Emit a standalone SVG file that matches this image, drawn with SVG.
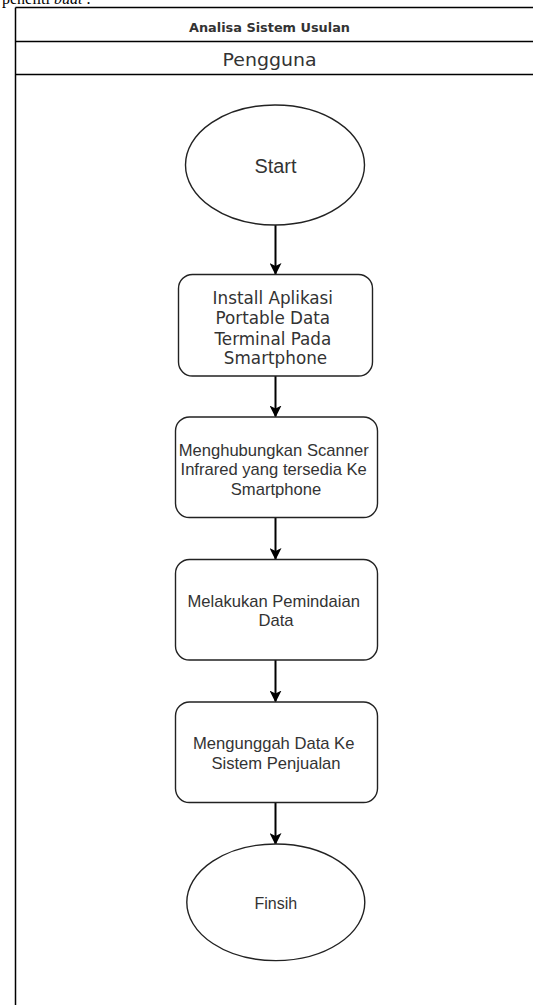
<svg xmlns="http://www.w3.org/2000/svg" width="533" height="1005" viewBox="0 0 533 1005">
<style>
.frame{fill:none;stroke:#000;stroke-width:1.5}
.node{fill:#fff;stroke:#222;stroke-width:1.4}
.conn{fill:none;stroke:#000;stroke-width:2}
.lbl{font-family:"Liberation Sans",Arial,sans-serif;fill:#333;text-anchor:middle;dominant-baseline:central}
.dv{font-family:"DejaVu Sans",Verdana,sans-serif;fill:#333;text-anchor:middle;dominant-baseline:central}
</style>
<defs>
<marker id="arr" markerWidth="12" markerHeight="12" viewBox="0 0 12 12" refX="11" refY="6" orient="auto" markerUnits="userSpaceOnUse">
<path d="M0,0 L12,6 L0,12 L3,6 Z" fill="#000"/>
</marker>
</defs>
<rect width="533" height="1005" fill="#fff"/>
<text x="2" y="4" font-family="Liberation Serif,'Times New Roman',serif" font-size="16" fill="#000">peneliti <tspan font-style="italic">buat :</tspan></text>
<g id="pool">
<line class="frame" x1="15.5" y1="7.5" x2="533" y2="7.5"/>
<line class="frame" x1="15.5" y1="7.5" x2="15.5" y2="1005"/>
<line class="frame" x1="15.5" y1="41.5" x2="533" y2="41.5"/>
<line class="frame" x1="15.5" y1="74.5" x2="533" y2="74.5"/>
<text class="dv" x="269.5" y="28" font-size="11.5" font-weight="bold" textLength="161" lengthAdjust="spacingAndGlyphs">Analisa Sistem Usulan</text>
<text class="dv" x="269.5" y="60" font-size="17" textLength="94" lengthAdjust="spacingAndGlyphs">Pengguna</text>
</g>
<g id="connectors">
<line class="conn" x1="275.5" y1="225" x2="275.5" y2="274" marker-end="url(#arr)"/>
<line class="conn" x1="275.5" y1="376" x2="275.5" y2="416.5" marker-end="url(#arr)"/>
<line class="conn" x1="275.5" y1="517.5" x2="275.5" y2="559" marker-end="url(#arr)"/>
<line class="conn" x1="275.5" y1="660" x2="275.5" y2="701.5" marker-end="url(#arr)"/>
<line class="conn" x1="275.5" y1="802.5" x2="275.5" y2="844" marker-end="url(#arr)"/>
</g>
<g id="start">
<ellipse class="node" cx="275" cy="165" rx="89.5" ry="60"/>
<text class="lbl" x="275.5" y="166" font-size="20" textLength="42" lengthAdjust="spacingAndGlyphs">Start</text>
</g>
<g id="install">
<rect class="node" x="178.5" y="274.5" width="194" height="101.5" rx="14"/>
<text class="dv" font-size="16.8">
<tspan x="275.5" y="297.5">Install Aplikasi</tspan>
<tspan x="275.5" y="318">Portable Data</tspan>
<tspan x="275.5" y="338.5">Terminal Pada</tspan>
<tspan x="275.5" y="358">Smartphone</tspan>
</text>
</g>
<g id="scanner">
<rect class="node" x="175.5" y="417" width="202" height="100.5" rx="14"/>
<text class="lbl" font-size="16.6">
<tspan x="276" y="449.5">Menghubungkan Scanner</tspan>
<tspan x="276" y="469">Infrared yang tersedia Ke</tspan>
<tspan x="276" y="488.5">Smartphone</tspan>
</text>
</g>
<g id="scan">
<rect class="node" x="175.5" y="559.5" width="202" height="100.5" rx="14"/>
<text class="lbl" font-size="16.6">
<tspan x="276" y="601">Melakukan Pemindaian</tspan>
<tspan x="276" y="620">Data</tspan>
</text>
</g>
<g id="upload">
<rect class="node" x="175.5" y="702" width="202" height="100.5" rx="14"/>
<text class="lbl" font-size="16.6">
<tspan x="276" y="743">Mengunggah Data Ke</tspan>
<tspan x="276" y="762.5">Sistem Penjualan</tspan>
</text>
</g>
<g id="finish">
<ellipse class="node" cx="275.8" cy="902.3" rx="89" ry="58.3"/>
<text class="lbl" x="275.8" y="903" font-size="16">Finsih</text>
</g>
</svg>
